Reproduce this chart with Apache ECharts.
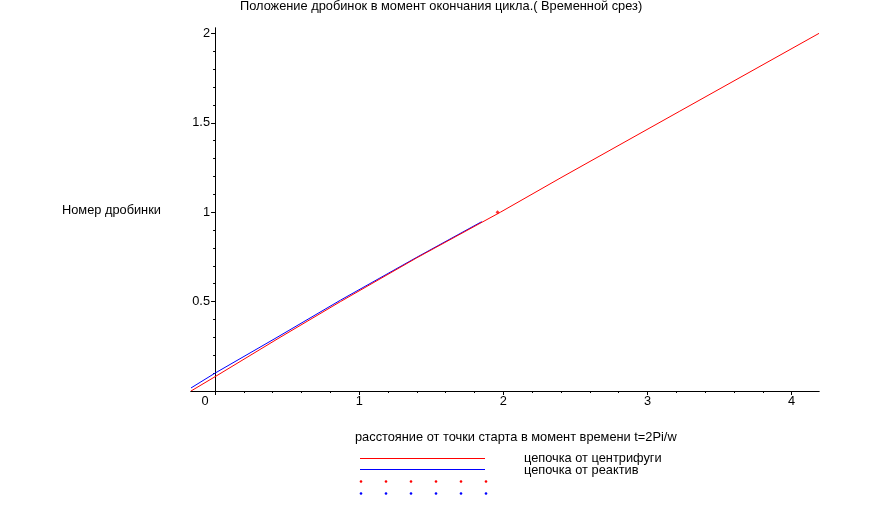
<!DOCTYPE html>
<html>
<head>
<meta charset="utf-8">
<script src="https://cdn.jsdelivr.net/npm/echarts@6/dist/echarts.min.js"></script>
<style>html,body{margin:0;padding:0;background:#fff}#c{width:884px;height:523px}</style>
</head>
<body>
<div id="c"></div>
<script>
// ---- data ----
var chartTitle = 'Положение дробинок в момент окончания цикла.( Временной срез)';
var xName = 'расстояние от точки старта в момент времени t=2Pi/w';
var yName = 'Номер дробинки';
var seriesNames = ['цепочка от центрифуги', 'цепочка от реактив'];
var redLine = [[-0.167,0],[0,0.08],[0.43,0.29],[0.87,0.5],[1.4,0.745],[1.98,1.0],[2.4,1.193],[3.22,1.563],[4.19,2.0]];
var blueLine = [[-0.167,0.017],[0,0.1],[0.43,0.3],[0.87,0.508],[1.4,0.748],[1.85,0.947]];
var redPoints = [[1.96,1.0]];
var xTicks = [0,1,2,3,4];
var xMinorTicks = [0.2,0.4,0.6,0.8,1.2,1.4,1.6,1.8,2.2,2.4,2.6,2.8,3.2,3.4,3.6,3.8,4.2];
var yTicks = [0.5,1,1.5,2];
var yMinorTicks = [0.1,0.2,0.3,0.4,0.6,0.7,0.8,0.9,1.1,1.2,1.3,1.4,1.6,1.7,1.8,1.9];
var xMin = -0.167, xMax = 4.19, yMin = 0, yMax = 2.03;

var FONT = 'Liberation Sans';
var FS = 12.8;
var chart = echarts.init(document.getElementById('c'), null, {renderer:'canvas'});
var axisBase = {
  type:'value', splitLine:{show:false},
  axisLine:{show:true, onZero:true, lineStyle:{color:'#000', width:1}}
};
var legendDotsX = [361,386,411,436,461,486];
var graphics = [
  {type:'line', shape:{x1:360,y1:458.5,x2:485,y2:458.5}, style:{stroke:'#ff0000', lineWidth:1}},
  {type:'line', shape:{x1:360,y1:469.5,x2:485,y2:469.5}, style:{stroke:'#0000ff', lineWidth:1}},
  {type:'text', left:524, top:452, style:{text:seriesNames[0], font:FS+'px "'+FONT+'"', fill:'#000'}},
  {type:'text', left:524, top:464, style:{text:seriesNames[1], font:FS+'px "'+FONT+'"', fill:'#000'}}
];
legendDotsX.forEach(function(x){
  graphics.push({type:'circle', shape:{cx:x,cy:481.5,r:1.3}, style:{fill:'#ff0000'}});
  graphics.push({type:'circle', shape:{cx:x,cy:493.5,r:1.3}, style:{fill:'#0000ff'}});
});
var tStyle = {fontSize:FS, fontWeight:'normal', color:'#000', fontFamily:FONT};
var option = {
  animation:false,
  backgroundColor:'#fff',
  textStyle:{fontFamily:FONT},
  title:[
    {text:chartTitle, left:240, top:0, padding:0, textStyle:tStyle},
    {text:yName, left:62, top:204, padding:0, textStyle:tStyle},
    {text:xName, left:355, top:431, padding:0, textStyle:tStyle}
  ],
  grid:{left:191, right:65, top:28, bottom:132, containLabel:false},
  xAxis:[
    Object.assign({}, axisBase, {min:xMin, max:xMax, position:'bottom',
      axisTick:{show:true, length:4, customValues:xTicks, lineStyle:{color:'#000'}},
      axisLabel:{show:true, customValues:xTicks, color:'#000', fontSize:FS, fontFamily:FONT, margin:4,
        formatter:function(v){ return v===0 ? '{z|0}' : String(v); },
        rich:{z:{padding:[0,20,0,0], fontSize:FS, fontFamily:FONT, color:'#000'}}}
    }),
    Object.assign({}, axisBase, {min:xMin, max:xMax, position:'bottom',
      axisTick:{show:true, length:2, customValues:xMinorTicks, lineStyle:{color:'#000'}},
      axisLabel:{show:false}
    })
  ],
  yAxis:[
    Object.assign({}, axisBase, {min:yMin, max:yMax, position:'left',
      axisTick:{show:true, length:4, customValues:yTicks, lineStyle:{color:'#000'}},
      axisLabel:{show:true, customValues:yTicks, color:'#000', fontSize:FS, fontFamily:FONT, margin:-19}
    }),
    Object.assign({}, axisBase, {min:yMin, max:yMax, position:'left',
      axisTick:{show:true, length:2, customValues:yMinorTicks, lineStyle:{color:'#000'}},
      axisLabel:{show:false}
    })
  ],
  series:[
    {name:seriesNames[0], type:'line', data:redLine, showSymbol:false, lineStyle:{color:'#ff0000', width:1}, itemStyle:{color:'#ff0000'}, z:3},
    {name:seriesNames[1], type:'line', data:blueLine, showSymbol:false, lineStyle:{color:'#0000ff', width:1}, itemStyle:{color:'#0000ff'}, z:2},
    {name:seriesNames[0]+' ', type:'scatter', data:redPoints, symbol:'diamond', symbolSize:4, itemStyle:{color:'#ff0000'}, z:4}
  ],
  graphic:graphics
};
chart.setOption(option);
</script>
</body>
</html>
